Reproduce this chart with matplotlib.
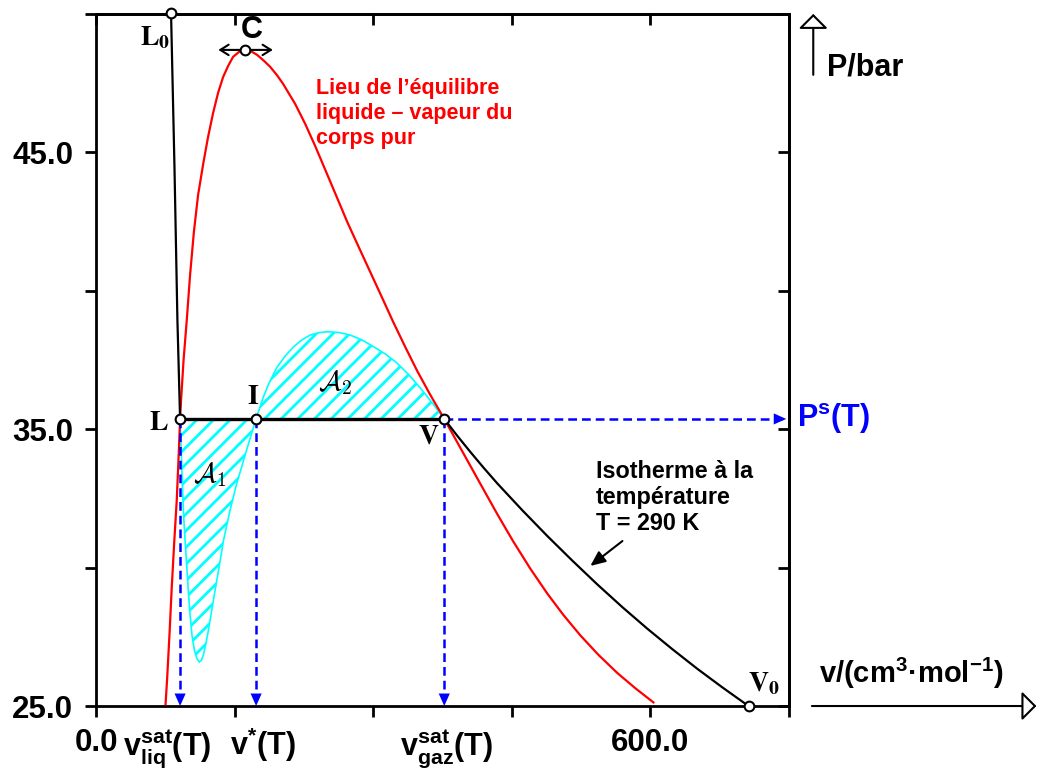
import matplotlib
matplotlib.use('Agg')
import matplotlib.pyplot as plt
from matplotlib.transforms import blended_transform_factory

plt.rcParams['font.family'] = ['Liberation Sans', 'DejaVu Sans']
plt.rcParams['font.weight'] = 'bold'
plt.rcParams['mathtext.fontset'] = 'custom'
plt.rcParams['mathtext.rm'] = 'Liberation Sans:bold'
plt.rcParams['mathtext.bf'] = 'Liberation Sans:bold'
plt.rcParams['mathtext.it'] = 'Liberation Sans:bold'
plt.rcParams['mathtext.default'] = 'bf'
plt.rcParams['hatch.linewidth'] = 2.0

# points remarquables de l'isotherme T = 290 K
p_sat = 35.37
v_liq = 91.0
v_star = 173.3
v_gaz = 376.9
v_C, p_C = 161.4, 48.70
v_L0, p_L0 = 81.2, 50.05
v_V0, p_V0 = 706.2, 25.0

# courbe d'equilibre liquide - vapeur (rouge)
red_v = [75.27, 76.90, 79.61, 81.99, 84.80, 87.40, 89.25, 91.0, 92.06, 94.77, 98.23,
         101.81, 105.92, 110.47, 116.21, 121.30, 126.72, 132.13, 137.55, 142.97, 148.38,
         154.88, 161.38, 167.88, 174.37, 181.96, 188.45, 196.04, 202.53, 215.53, 226.36,
         237.19, 249.11, 261.02, 271.85, 283.76, 296.76, 309.76, 321.67, 334.67, 347.67,
         361.75, 376.9, 396.40, 415.90, 434.31, 451.64, 470.05, 488.46, 505.79, 524.21,
         543.70, 564.28, 583.77, 603.27]
red_p = [25.07, 25.94, 27.64, 29.30, 31.00, 32.44, 33.89, 35.37, 36.05, 37.50, 38.94,
         40.57, 42.12, 43.46, 44.62, 45.56, 46.42, 47.15, 47.72, 48.12, 48.45,
         48.63, 48.70, 48.65, 48.52, 48.30, 48.09, 47.78, 47.47, 46.75, 46.03,
         45.23, 44.29, 43.35, 42.49, 41.62, 40.68, 39.74, 38.87, 37.97, 37.10,
         36.24, 35.37, 34.20, 33.03, 31.93, 30.94, 29.96, 29.06, 28.29, 27.55,
         26.85, 26.19, 25.64, 25.13]

# isotherme : branche liquide L0 -> L et branche gaz V -> V0
liq_v = [81.2, 84.9, 88.1, 91.0]
liq_p = [50.05, 44.5, 38.95, 35.37]
gaz_v = [376.9, 391.0, 405.07, 419.15, 434.31, 461.39, 488.46, 515.54, 542.62, 569.69,
         596.77, 623.85, 650.93, 678.00, 706.2]
gaz_p = [35.37, 34.76, 34.18, 33.62, 33.04, 32.07, 31.14, 30.25, 29.39, 28.57,
         27.79, 27.05, 26.34, 25.67, 25.0]

# boucle de van der Waals entre L et V (aires A1 et A2)
loop_v = [91.0, 91.85, 92.82, 93.69, 94.77, 96.39, 98.23, 99.97, 101.81, 103.97, 106.68,
          109.39, 111.88, 114.26, 116.43, 118.60, 121.30, 124.55, 127.80, 132.68, 138.09,
          145.13, 152.17, 157.59, 163.00, 167.88, 173.3, 177.08, 181.20, 187.37, 195.71,
          204.70, 213.69, 222.57, 231.78, 241.52, 251.60, 263.19, 275.10, 288.10, 300.34,
          313.01, 325.68, 337.92, 350.91, 363.91, 376.9]
loop_p = [35.37, 34.61, 33.67, 32.80, 31.90, 31.00, 30.06, 29.12, 28.29, 27.53, 26.99,
          26.70, 26.59, 26.66, 26.88, 27.20, 27.67, 28.32, 28.97, 29.91, 31.00,
          32.08, 33.02, 33.63, 34.25, 34.79, 35.37, 35.77, 36.17, 36.67, 37.23,
          37.64, 37.97, 38.22, 38.40, 38.49, 38.52, 38.49, 38.40, 38.22, 37.98,
          37.72, 37.39, 36.99, 36.49, 35.95, 35.37]

x_ticks = [0, 150, 300, 450, 600, 750]
x_labels = ['0.0', '', '', '', '600.0', '']
y_ticks = [25, 30, 35, 40, 45, 50]
y_labels = ['25.0', '', '35.0', '', '45.0', '']

fig = plt.figure(figsize=(10.39, 7.69), dpi=100)
ax = fig.add_axes([0.0924, 0.0819, 0.667, 0.900])
ax.set_xlim(0, 750)
ax.set_ylim(25, 50)

# aires hachurees
ax.fill(loop_v, loop_p, facecolor='white', edgecolor='cyan', hatch='//', lw=1.2, zorder=2)

ax.plot(red_v, red_p, color='red', lw=1.6, zorder=3)
ax.plot(liq_v, liq_p, color='black', lw=1.6, zorder=4)
ax.plot(gaz_v, gaz_p, color='black', lw=1.6, zorder=4)
ax.plot([v_liq, v_gaz], [p_sat, p_sat], color='black', lw=2.4, zorder=4)

# fleches bleues en pointilles
blue = '#0000ff'
head = dict(arrowstyle='-|>,head_length=0.45,head_width=0.2', color=blue, lw=0,
            mutation_scale=20, shrinkA=0, shrinkB=0)
for v in (v_liq, v_star, v_gaz):
    ax.plot([v, v], [p_sat, 25.3], color=blue, lw=1.8, dashes=(3.5, 2), zorder=3)
    ax.annotate('', xy=(v, 25.0), xytext=(v, 25.6), arrowprops=head, zorder=5)
ax.plot([v_gaz, 742], [p_sat, p_sat], color=blue, lw=1.8, dashes=(3.5, 2), zorder=3)
ax.annotate('', xy=(747, p_sat), xytext=(735, p_sat), arrowprops=head, zorder=5)

# points
pts_v = [v_L0, v_C, v_liq, v_star, v_gaz, v_V0]
pts_p = [p_L0, p_C, p_sat, p_sat, p_sat, p_V0]
ax.plot(pts_v, pts_p, 'o', ms=7, mfc='white', mec='black', mew=1.5, zorder=6, clip_on=False)

# double fleche en C
ax.annotate('', xy=(v_C - 29, p_C), xytext=(v_C + 30, p_C),
            arrowprops=dict(arrowstyle='<->,head_length=0.4,head_width=0.25', lw=1.5,
                            color='black', mutation_scale=15, shrinkA=0, shrinkB=0), zorder=5)

# etiquettes des points
serif = dict(math_fontfamily='stix', fontsize=20, ha='center', va='center',
             textcoords='offset points', annotation_clip=False)
ax.annotate(r'$L_0$', (v_L0, p_L0), xytext=(-11.5, -18), **serif)
ax.annotate(r'$L$', (v_liq, p_sat), xytext=(-15, -3), **serif)
ax.annotate(r'$I$', (v_star, p_sat), xytext=(-2, 16), **serif)
ax.annotate(r'$V$', (v_gaz, p_sat), xytext=(-11.5, -13), **serif)
ax.annotate(r'$V_0$', (v_V0, p_V0), xytext=(11, 16), **serif)
ax.annotate('C', (v_C, p_C), xytext=(5, 14.5), textcoords='offset points',
            fontsize=22, ha='center', va='center')

ax.text(123.5, 33.35, r'$\mathcal{A}_1$', math_fontfamily='cm', fontsize=20,
        ha='center', va='center', zorder=5)
ax.text(258.8, 36.67, r'$\mathcal{A}_2$', math_fontfamily='cm', fontsize=20,
        ha='center', va='center', zorder=5)

ax.text(238.3, 47.70, "Lieu de l’équilibre\nliquide – vapeur du\ncorps pur",
        color='red', fontsize=15.5, ha='left', va='top', linespacing=1.25)
ax.text(541, 33.89, "Isotherme à la\ntempérature\nT = 290 K",
        color='black', fontsize=16.8, ha='left', va='top', linespacing=1.16)
ax.annotate('', xy=(535.0, 30.06), xytext=(569.7, 30.96),
            arrowprops=dict(arrowstyle='-|>,head_length=0.5,head_width=0.22', lw=1.5,
                            color='black', mutation_scale=18, shrinkA=0, shrinkB=0))

# axes et graduations
ax.set_xticks(x_ticks)
ax.set_xticklabels(x_labels)
ax.set_yticks(y_ticks)
ax.set_yticklabels(y_labels)
ax.tick_params(axis='both', direction='out', length=8, width=2, labelsize=22.5)
ax.tick_params(axis='x', pad=8)
ax.tick_params(axis='y', pad=8.5)
for s in ax.spines.values():
    s.set_linewidth(2)

top = ax.secondary_xaxis('top')
top.set_xticks(x_ticks)
top.set_xticklabels([])
top.tick_params(direction='in', length=8, width=2)
top.spines['top'].set_linewidth(2)
right = ax.secondary_yaxis('right')
right.set_yticks(y_ticks)
right.set_yticklabels([])
right.tick_params(direction='in', length=8, width=2)
right.spines['right'].set_linewidth(2)

# volumes particuliers sous l'axe
trans = blended_transform_factory(ax.transData, ax.transAxes)
ax.text(v_liq - 14, -0.071, r'$v^{sat}_{liq}(T)$', transform=trans, fontsize=22,
        ha='center', va='baseline')
ax.text(v_star + 7.6, -0.071, r'$v^{*}(T)$', transform=trans, fontsize=22,
        ha='center', va='baseline')
ax.text(v_gaz + 2, -0.071, r'$v^{sat}_{gaz}(T)$', transform=trans, fontsize=22,
        ha='center', va='baseline')

# fleches des axes
open_head = dict(arrowstyle='-|>,head_length=0.45,head_width=0.45', fc='white', ec='black',
                 lw=1.5, mutation_scale=20, shrinkA=0, shrinkB=0)
ax.annotate('', xy=(1.035, 1.0), xytext=(1.035, 0.912), xycoords='axes fraction',
            arrowprops=open_head)
ax.annotate('', xy=(1.357, 0.0), xytext=(1.033, 0.0), xycoords='axes fraction',
            arrowprops=open_head)
ax.text(1.055, 0.922, 'P/bar', transform=ax.transAxes, fontsize=22, ha='left', va='center')
ax.text(1.176, 0.033, r'v/(cm$^{3}$·mol$^{-1}$)', transform=ax.transAxes, fontsize=21,
        ha='center', va='baseline')
ax.annotate(r'P$^{s}$(T)', xy=(1.012, p_sat), xycoords=('axes fraction', 'data'),
            color=blue, fontsize=22, ha='left', va='center')

fig.savefig('out.png', dpi=100)
